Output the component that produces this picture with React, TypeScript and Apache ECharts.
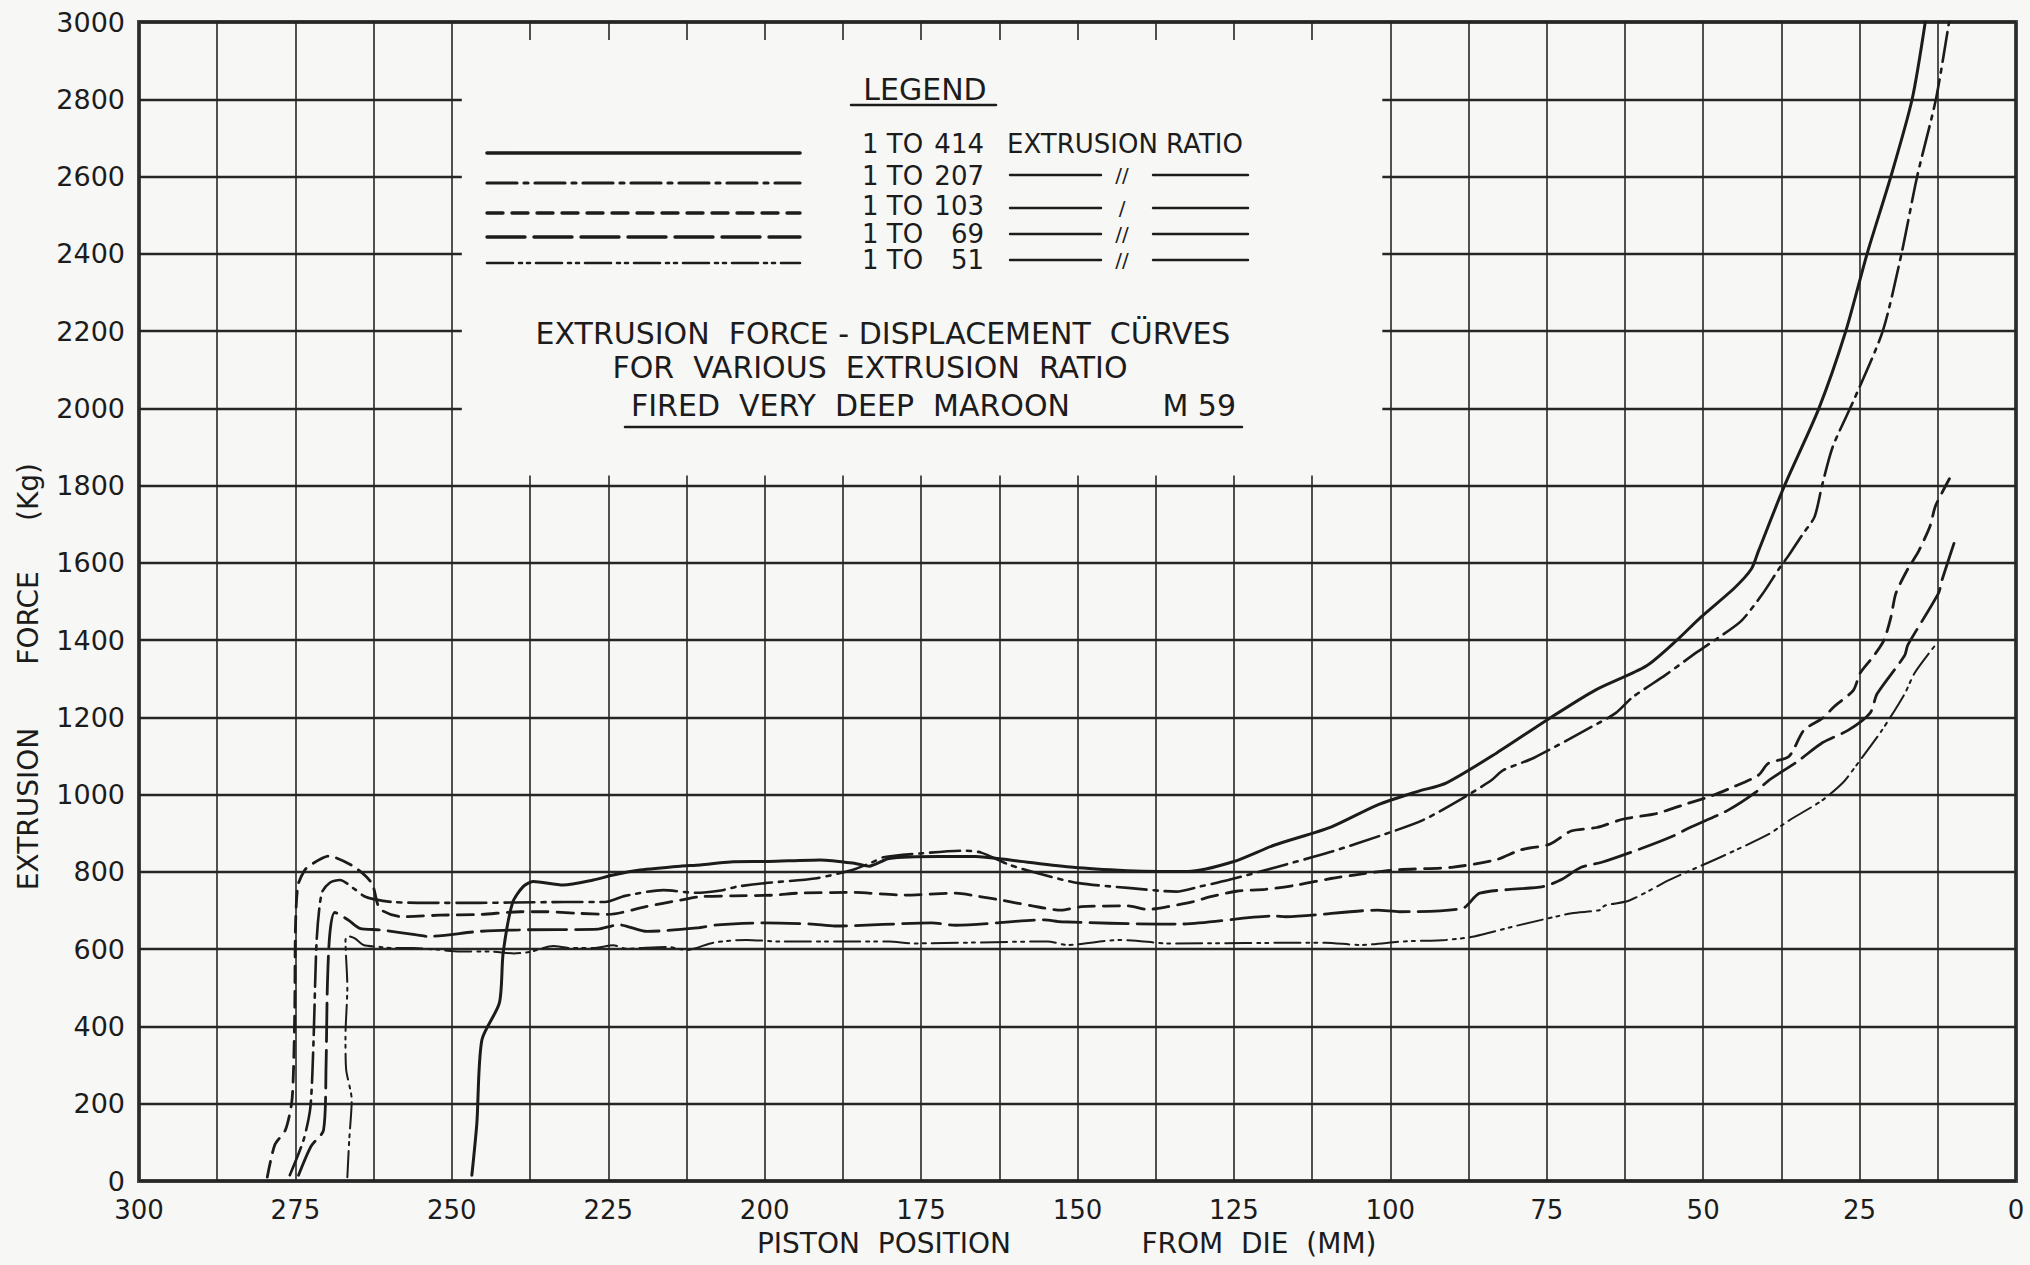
import React, { useEffect, useRef } from "react";
import * as echarts from "echarts";

// Axis ranges (piston position in mm from the die, extrusion force in kg)
const X_MIN = 0;
const X_MAX = 300;
const X_STEP = 12.5;
const X_LABEL_STEP = 25;
const Y_MIN = 0;
const Y_MAX = 3000;
const Y_STEP = 200;

// Force–displacement readings: [piston position (mm), force (kg)]
const ratio414: [number, number][] = [
  [246.8, 15], [246.0, 150], [245.2, 365], [242.4, 461], [241.8, 590], [240.3, 720],
  [238.6, 762], [237.0, 775], [232.2, 766], [227.4, 779], [224.2, 792], [219.9, 805],
  [213.5, 815], [210.3, 818], [205.5, 826], [199.4, 827], [191.1, 831], [185.5, 822],
  [183.3, 815], [180.1, 835], [172.0, 840], [166.3, 840], [160.8, 831], [150.7, 812],
  [142.0, 803], [137.0, 801], [132.4, 801], [125.0, 827], [118.6, 869], [109.5, 916],
  [102.1, 973], [95.7, 1008], [91.1, 1030], [83.0, 1108], [74.9, 1194], [67.3, 1270],
  [59.1, 1333], [54.2, 1400], [50.4, 1459], [45.0, 1535], [42.3, 1584], [41.2, 1629],
  [37.0, 1800], [31.5, 2000], [27.2, 2200], [23.8, 2400], [20.0, 2600], [16.6, 2800],
  [14.5, 3000],
];

const ratio207: [number, number][] = [
  [275.9, 15], [273.7, 106], [272.6, 192], [272.1, 365], [271.6, 624], [270.8, 745],
  [269.5, 772], [267.9, 779], [265.5, 755], [264.0, 737], [262.3, 729], [259.4, 722],
  [254.0, 720], [245.5, 720], [240.0, 721], [232.0, 722], [225.5, 722], [222.3, 738],
  [216.2, 753], [211.1, 746], [207.0, 752], [204.4, 762], [200.0, 771], [192.0, 783],
  [186.0, 805], [182.8, 825], [181.0, 838], [175.0, 848], [168.1, 855], [165.4, 850],
  [160.8, 818], [155.3, 792], [149.8, 771], [141.5, 758], [134.2, 749], [130.5, 762],
  [125.9, 779], [118.1, 813], [109.5, 852], [101.2, 896], [94.8, 934], [88.0, 995],
  [83.8, 1038], [82.0, 1063], [77.1, 1095], [67.8, 1176], [64.0, 1211], [61.3, 1252],
  [56.0, 1310], [51.0, 1369], [47.7, 1405], [43.9, 1450], [40.5, 1520], [37.9, 1584],
  [36.3, 1620], [34.1, 1674], [32.2, 1719], [31.0, 1800], [29.3, 1900], [25.9, 2022],
  [21.3, 2200], [18.3, 2400], [15.8, 2600], [12.8, 2800], [10.7, 3000],
];

const ratio103: [number, number][] = [
  [279.5, 10], [278.3, 93], [276.6, 132], [275.6, 202], [275.3, 290], [275.1, 450],
  [275.0, 650], [274.6, 765], [273.5, 805], [272.6, 818], [269.7, 841], [265.7, 814],
  [262.8, 771], [261.5, 705], [258.0, 684], [252.0, 688], [245.5, 690], [239.0, 697],
  [235.0, 697], [230.0, 693], [225.0, 690], [219.0, 710], [213.5, 727], [210.3, 736],
  [205.0, 738], [198.4, 740], [194.7, 745], [186.0, 747], [177.7, 740], [169.5, 745],
  [165.9, 737], [162.2, 727], [157.2, 712], [152.6, 701], [149.4, 710], [142.0, 712],
  [138.8, 703], [135.6, 710], [131.5, 723], [128.7, 736], [124.6, 750], [120.0, 755],
  [115.0, 766], [109.5, 783], [105.8, 792], [99.4, 805], [90.2, 812], [83.0, 832],
  [79.2, 857], [74.5, 872], [71.1, 906], [67.0, 915], [62.7, 937], [57.5, 951],
  [52.9, 975], [48.8, 996], [45.5, 1018], [41.2, 1050], [39.6, 1081], [36.3, 1099],
  [33.9, 1167], [30.9, 1198], [29.0, 1229], [26.0, 1270], [24.9, 1315], [22.7, 1360],
  [21.1, 1400], [20.0, 1459], [19.2, 1521], [17.3, 1584], [15.6, 1629], [13.7, 1697],
  [12.9, 1746], [10.5, 1822],
];

const ratio69: [number, number][] = [
  [274.5, 15], [272.5, 90], [270.5, 132], [270.1, 300], [269.9, 500], [269.5, 640],
  [268.7, 695], [266.5, 675], [264.7, 654], [261.5, 650], [255.6, 637], [253.9, 633],
  [245.7, 646], [239.2, 650], [226.6, 652], [224.5, 660], [223.2, 663], [218.8, 646],
  [210.8, 655], [207.5, 663], [200.0, 668], [192.5, 665], [188.8, 660], [173.3, 668],
  [169.5, 662], [155.3, 676], [152.6, 671], [137.0, 665], [133.7, 665], [118.6, 686],
  [116.7, 684], [102.1, 701], [98.5, 697], [88.4, 706], [85.7, 745], [75.6, 762],
  [72.8, 779], [69.5, 812], [66.2, 825], [60.0, 860], [54.8, 893], [52.1, 915],
  [46.0, 960], [41.7, 1005], [39.6, 1036], [35.0, 1085], [30.9, 1135], [26.8, 1167],
  [23.3, 1212], [22.2, 1261], [17.8, 1360], [17.3, 1387], [12.4, 1521], [11.8, 1557],
  [9.7, 1661],
];

const ratio51: [number, number][] = [
  [266.7, 10], [266.4, 106], [266.0, 210], [266.9, 290], [267.0, 373], [266.7, 502],
  [267.0, 624], [266.6, 634], [265.5, 628], [264.1, 611], [261.5, 606], [259.4, 603],
  [256.1, 603], [252.4, 599], [248.7, 594], [243.9, 594], [240.1, 589], [237.5, 593],
  [233.8, 608], [231.1, 603], [227.4, 603], [224.2, 610], [222.0, 601], [219.9, 603],
  [215.6, 606], [212.4, 598], [208.2, 617], [202.9, 624], [197.5, 620], [180.1, 620],
  [176.4, 615], [154.8, 620], [151.6, 611], [143.4, 624], [140.6, 622], [135.6, 615],
  [110.4, 617], [104.9, 611], [98.0, 620], [91.1, 624], [86.6, 633], [80.0, 660],
  [71.0, 693], [66.6, 701], [65.7, 713], [61.8, 726], [55.3, 780], [47.0, 840],
  [39.6, 897], [36.3, 933], [31.0, 985], [27.6, 1032], [25.7, 1072], [21.5, 1165],
  [17.8, 1261], [16.2, 1315], [12.9, 1387],
];

const RATIO_LABELS = ["414", "207", "103", "69", "51"];

// Stroke styles, one per extrusion ratio (same order as RATIO_LABELS)
const STROKES: { dash: number[] | null; width: number }[] = [
  { dash: null, width: 3 },
  { dash: [30, 7, 4, 7], width: 2.6 },
  { dash: [16, 9], width: 2.8 },
  { dash: [38, 9], width: 2.8 },
  { dash: [26, 6, 3, 5, 3, 6], width: 2 },
];

const INK = "#1c1c1c";
const PAPER = "#f7f7f6";
const FONT = "'DejaVu Sans', 'Liberation Sans', sans-serif";

export default function App() {
  const ref = useRef<HTMLDivElement>(null);

  useEffect(() => {
    const el = ref.current;
    if (!el) return;
    const chart = echarts.init(el, null, { renderer: "svg" });

    const seriesData = [ratio414, ratio207, ratio103, ratio69, ratio51];

    chart.setOption({
      animation: false,
      backgroundColor: PAPER,
      grid: {
        left: 139,
        right: 14,
        top: 22,
        bottom: 84,
        show: true,
        borderColor: "#484848",
        borderWidth: 4,
        backgroundColor: "transparent",
      },
      xAxis: {
        type: "value",
        min: X_MIN,
        max: X_MAX,
        interval: X_STEP,
        inverse: true,
        axisLine: { show: false },
        axisTick: { show: false },
        axisLabel: {
          formatter: (v: number) => (v % X_LABEL_STEP === 0 ? String(v) : ""),
          fontSize: 26,
          color: INK,
          margin: 16,
          fontFamily: FONT,
        },
        splitLine: { show: true, lineStyle: { color: "#262626", width: 1.6 } },
      },
      yAxis: {
        type: "value",
        min: Y_MIN,
        max: Y_MAX,
        interval: Y_STEP,
        axisLine: { show: false },
        axisTick: { show: false },
        axisLabel: {
          formatter: (v: number) => String(v),
          fontSize: 27,
          color: INK,
          margin: 14,
          fontFamily: FONT,
        },
        splitLine: { show: true, lineStyle: { color: "#262626", width: 2.4 } },
      },
      series: seriesData.map((data, i) => ({
        name: "1 TO " + RATIO_LABELS[i],
        type: "line",
        data,
        showSymbol: false,
        symbol: "none",
        smooth: 0.25,
        lineStyle: {
          color: INK,
          width: STROKES[i].width,
          type: STROKES[i].dash ?? "solid",
          cap: "round",
        },
        z: 3,
      })),
    });

    // White panel holding the legend and title, cut out of the grid
    const [bx1, by1] = chart.convertToPixel({ gridIndex: 0 }, [250, Y_MAX]) as number[];
    const [bx2, by2] = chart.convertToPixel({ gridIndex: 0 }, [100, 1800]) as number[];

    const txt = (text: string, x: number, y: number, size: number, align = "left", extra: any = {}) => ({
      type: "text",
      x,
      y,
      z: 5,
      ...extra,
      style: {
        text,
        fill: INK,
        font: `${size}px ${FONT}`,
        textAlign: align,
        textVerticalAlign: "middle",
      },
    });
    const seg = (x1: number, y1: number, x2: number, y2: number, width: number, dash: number[] | null = null) => ({
      type: "line",
      z: 5,
      shape: { x1, y1, x2, y2 },
      style: { stroke: INK, lineWidth: width, lineDash: dash ?? undefined, lineCap: "round" },
    });

    const sampleYs = [153, 183, 213, 237, 263];
    const rowYs = [144, 176, 206, 234, 260];
    const dittoYs = [0, 175, 208, 234, 260];
    const dittoMarks = ["", "//", "/", "//", "//"];

    const elements: any[] = [
      {
        type: "rect",
        z: 1,
        shape: { x: bx1 + 10, y: by1 + 18, width: bx2 - bx1 - 18, height: by2 - by1 - 28 },
        style: { fill: PAPER },
      },
      txt("LEGEND", 925, 89, 30, "center"),
      seg(851, 105, 996, 105, 2.5),
      txt("EXTRUSION RATIO", 1007, rowYs[0], 26),
      txt("EXTRUSION  FORCE - DISPLACEMENT  CÜRVES", 883, 333, 30, "center"),
      txt("FOR  VARIOUS  EXTRUSION  RATIO", 870, 367, 30, "center"),
      txt("FIRED  VERY  DEEP  MAROON", 631, 405, 30),
      txt("M 59", 1236, 405, 30, "right"),
      seg(625, 427, 1242, 427, 2.5),
      // axis titles
      txt("EXTRUSION", 28, 809, 28, "center", { rotation: Math.PI / 2 }),
      txt("FORCE", 28, 618, 28, "center", { rotation: Math.PI / 2 }),
      txt("(Kg)", 28, 492, 28, "center", { rotation: Math.PI / 2 }),
      txt("PISTON  POSITION", 884, 1243, 28, "center"),
      txt("FROM  DIE  (MM)", 1259, 1243, 28, "center"),
    ];

    RATIO_LABELS.forEach((label, i) => {
      elements.push(seg(487, sampleYs[i], 800, sampleYs[i], STROKES[i].width + 0.6, STROKES[i].dash));
      elements.push(txt("1 TO", 862, rowYs[i], 26));
      elements.push(txt(label, 984, rowYs[i], 26, "right"));
      if (i > 0) {
        elements.push(seg(1010, dittoYs[i], 1101, dittoYs[i], 2.4));
        elements.push(txt(dittoMarks[i], 1122, dittoYs[i], 20, "center"));
        elements.push(seg(1153, dittoYs[i], 1248, dittoYs[i], 2.4));
      }
    });

    chart.setOption({ graphic: { elements } });

    return () => chart.dispose();
  }, []);

  return (
    <div
      ref={ref}
      style={{ position: "fixed", left: 0, top: 0, width: 2030, height: 1265 }}
    />
  );
}
